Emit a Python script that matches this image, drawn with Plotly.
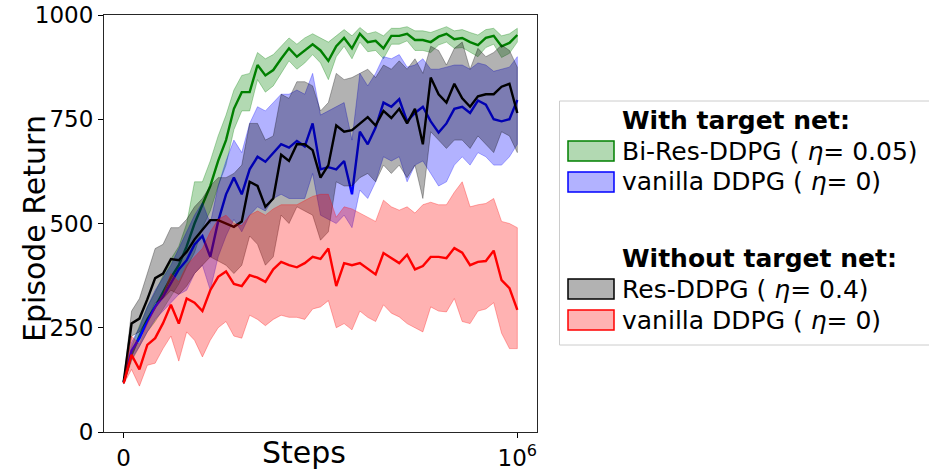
import plotly.graph_objects as go

steps = [i * 20000 for i in range(51)]

green_mean = [120,185,230,270,300,335,370,400,445,500,545,590,650,700,775,815,815,880,855,868,
              895,920,900,915,930,915,890,925,945,920,955,935,938,920,950,950,955,940,940,935,
              948,955,942,945,935,928,945,950,925,933,952]
green_upper = [125,205,255,300,335,375,415,445,500,600,600,650,710,760,820,855,860,910,895,905,
               925,945,930,945,955,945,935,950,965,950,970,955,960,950,968,968,972,962,962,958,
               965,972,962,965,958,952,965,968,950,955,968]
green_lower = [115,170,205,240,265,295,325,355,395,430,490,530,590,640,725,770,770,845,815,830,
               860,890,870,885,905,885,845,900,925,895,935,912,915,895,930,930,938,915,915,910,
               928,935,920,922,910,900,922,930,898,908,935]

blue_mean = [120,195,225,265,300,325,357,390,412,450,470,420,505,570,610,570,630,660,648,670,
             690,682,698,685,740,630,635,630,650,570,720,690,730,790,780,798,745,765,780,745,
             718,740,775,780,765,795,785,750,745,750,796]
blue_upper = [125,215,250,300,340,370,400,440,480,520,550,500,590,650,700,670,740,780,770,790,
              810,810,820,810,860,760,770,780,790,700,860,830,860,900,895,905,875,880,895,870,
              870,875,880,880,870,885,880,865,870,875,900]
blue_lower = [115,175,205,240,270,290,310,330,340,380,400,340,420,470,510,480,520,540,530,560,
              570,560,560,560,620,520,510,500,520,490,580,560,600,660,650,660,600,640,650,620,
              590,600,640,660,640,670,660,640,640,660,690]

black_mean = [120,260,272,318,369,380,415,412,432,462,485,508,508,500,492,505,600,590,540,560,
              665,650,690,690,676,610,640,735,720,724,740,755,735,770,753,775,740,775,690,850,
              810,790,835,800,780,805,810,810,828,835,765]
black_upper = [125,290,320,380,440,450,490,490,510,540,560,590,610,610,620,640,740,740,700,710,
               810,800,840,840,830,770,790,860,845,850,860,870,850,880,870,890,870,895,860,925,
               915,880,920,935,870,920,900,910,928,915,875]
black_lower = [115,230,240,270,310,320,340,330,350,380,400,420,410,400,380,400,470,450,400,420,
               520,500,540,530,520,460,480,600,590,590,610,620,600,640,620,640,610,640,560,720,
               700,680,700,700,680,710,690,670,720,710,670]

red_mean = [117,185,150,209,225,261,305,260,320,310,290,340,372,385,355,350,376,370,360,390,
            408,400,395,405,420,415,440,350,405,400,405,392,378,429,417,405,425,390,398,420,
            420,417,441,430,400,408,410,435,364,345,293]
red_upper = [120,230,210,260,300,330,380,360,400,420,440,480,510,520,500,495,520,530,520,535,
             545,545,545,555,565,570,570,515,540,535,525,515,505,556,540,532,540,525,545,551,
             545,545,575,600,540,545,548,560,505,500,490]
red_lower = [115,150,110,160,165,200,230,170,240,220,180,220,250,265,230,225,280,270,255,270,
             280,275,275,270,295,300,315,250,260,245,290,275,265,305,285,276,260,250,240,300,
             290,288,320,265,260,290,295,310,237,200,200]

y_ticks = [0, 250, 500, 750, 1000]
x_ticks = [0, 1000000]
x_ticktext = ["0", "10<sup>6</sup>"]

series = [
    ("Bi-Res-DDPG", (0, 128, 0), green_mean, green_upper, green_lower),
    ("vanilla DDPG target", (0, 0, 255), blue_mean, blue_upper, blue_lower),
    ("Res-DDPG", (0, 0, 0), black_mean, black_upper, black_lower),
    ("vanilla DDPG", (255, 0, 0), red_mean, red_upper, red_lower),
]

FONT = "DejaVu Sans"
fig = go.Figure()
for name, (r, g, b), mean, up, lo in series:
    fig.add_trace(go.Scatter(x=steps, y=mean, mode="lines", showlegend=False,
                             line=dict(color=f"rgb({r},{g},{b})", width=2.4)))
    fig.add_trace(go.Scatter(x=steps + steps[::-1], y=up + lo[::-1], mode="lines",
                             fill="toself", fillcolor=f"rgba({r},{g},{b},0.3)",
                             line=dict(color=f"rgba({r},{g},{b},0.3)", width=1),
                             showlegend=False, hoverinfo="skip"))

L, R, T, B = 104, 537, 15, 432
def X(px):
    return (px - L) / (R - L)
def Y(py):
    return (B - py) / (B - T)

shapes = [dict(type="rect", xref="paper", yref="paper", x0=X(559.5), x1=X(930), y0=Y(345), y1=Y(101),
               line=dict(color="#cccccc", width=1), fillcolor="white", layer="above")]
annotations = []
legend_rows = [
    ("<b>With target net:</b>", None, 120),
    ("Bi-Res-DDPG ( <i>η</i>= 0.05)", (0, 128, 0), 151),
    ("vanilla DDPG ( <i>η</i>= 0)", (0, 0, 255), 182),
    ("<b>Without target net:</b>", None, 258),
    ("Res-DDPG ( <i>η</i>= 0.4)", (0, 0, 0), 289),
    ("vanilla DDPG ( <i>η</i>= 0)", (255, 0, 0), 320),
]
for text, col, cy in legend_rows:
    if col is not None:
        r, g, b = col
        shapes.append(dict(type="rect", xref="paper", yref="paper", x0=X(568), x1=X(614),
                           y0=Y(cy + 10), y1=Y(cy - 10), fillcolor=f"rgba({r},{g},{b},0.3)",
                           line=dict(color=f"rgb({r},{g},{b})", width=1.5), layer="above"))
    annotations.append(dict(text=text, xref="paper", yref="paper", x=X(620), y=Y(cy),
                            xanchor="left", yanchor="middle", showarrow=False,
                            font=dict(family=FONT, size=25, color="black")))

annotations.append(dict(text="Steps", xref="paper", yref="paper", x=X(304), y=Y(453),
                        xanchor="center", yanchor="middle", showarrow=False,
                        font=dict(family=FONT, size=30, color="black")))
annotations.append(dict(text="Episode Return", xref="paper", yref="paper", x=X(35), y=Y(229),
                        xanchor="center", yanchor="middle", showarrow=False, textangle=-90,
                        font=dict(family=FONT, size=30, color="black")))

axis_common = dict(ticks="outside", ticklen=5, tickwidth=1, tickcolor="black",
                   showline=True, mirror=True, linecolor="#262626", linewidth=1.2,
                   showgrid=False, zeroline=False, automargin=False,
                   tickfont=dict(size=23, family=FONT, color="black"))

fig.update_layout(
    width=929, height=471,
    margin=dict(l=L, r=929 - R, t=T, b=471 - B),
    plot_bgcolor="white", paper_bgcolor="white",
    font=dict(family=FONT, color="black"),
    showlegend=False,
    shapes=shapes, annotations=annotations,
    xaxis=dict(range=[-50000, 1050000], tickvals=x_ticks, ticktext=x_ticktext, **axis_common),
    yaxis=dict(range=[0, 1000], tickvals=y_ticks, **axis_common),
)

fig.write_html("out.html")
